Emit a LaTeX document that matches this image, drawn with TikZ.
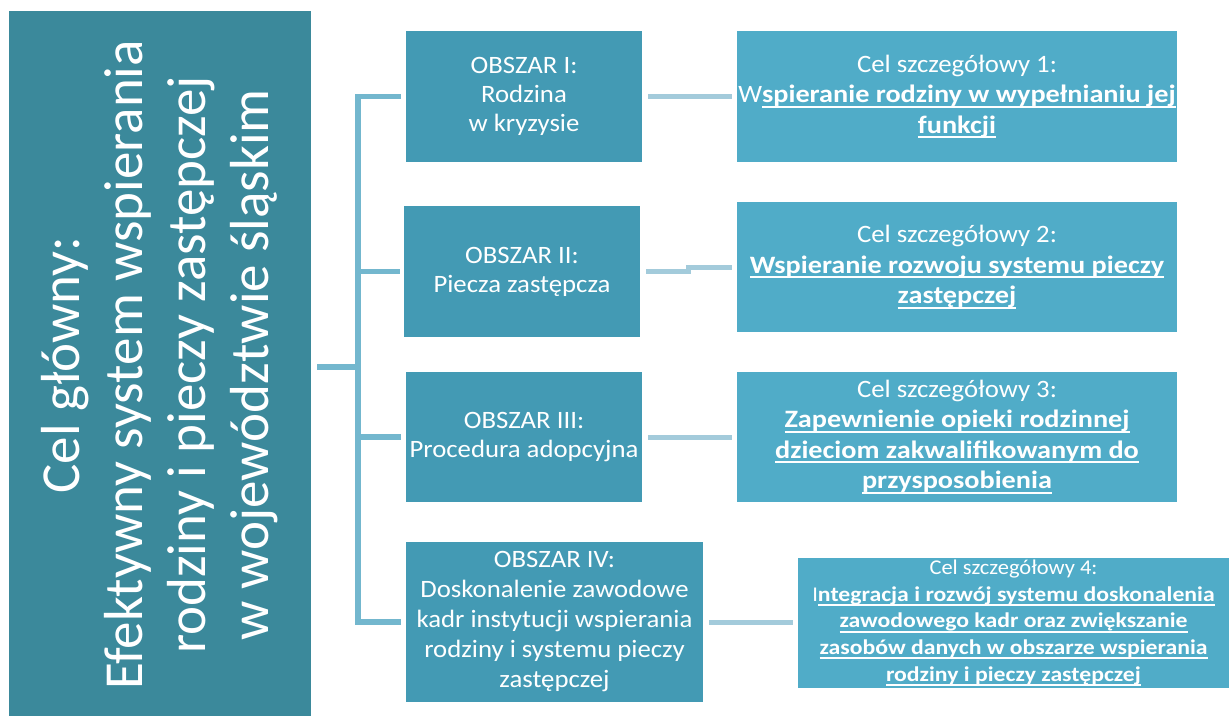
\documentclass[tikz,border=0pt]{standalone}
\usepackage{fontspec}
\setmainfont{Carlito}[FakeStretch=1.07, BoldFeatures={FakeStretch=1.13}]
\newfontfamily\glownyfont{Carlito}
\definecolor{morski}{HTML}{3B899B}
\definecolor{obszarkol}{HTML}{439AB4}
\definecolor{celkol}{HTML}{50ACC8}
\definecolor{szynakol}{HTML}{73B7CE}
\definecolor{laczkol}{HTML}{A3CBDB}
\newcommand\podkresl[1]{\leavevmode\setbox0\hbox{#1}\rlap{\vrule width\wd0 height -3pt depth 5pt}\box0}

\begin{document}
\begin{tikzpicture}[x=1pt, y=-1pt]
\tikzset{glownynoeud/.style={fill=morski, text=white, inner sep=0pt, align=center, rotate=90, font=\glownyfont\fontsize{55}{63}\selectfont},
  obszarnoeud/.style={fill=obszarkol, text=white, inner sep=0pt, align=center, font=\fontsize{25}{29}\selectfont},
  celnoeud/.style={fill=celkol, text=white, inner sep=0pt, align=center, font=\fontsize{25}{30.5}\selectfont},
  galaz/.style={draw=szynakol, line width=5.5pt},
  lacznik/.style={draw=laczkol, line width=5pt, shorten <=6pt, shorten >=5pt}}
\useasboundingbox (0,0) rectangle (1229,715);
\node[glownynoeud, minimum width=708pt, minimum height=302pt] (glowny) at (160,365) {Cel główny:\\Efektywny system wspierania\\rodziny i pieczy zastępczej\\w województwie śląskim};
\node[obszarnoeud, minimum width=236pt, minimum height=131pt] (obszar1) at (524,96.5) {OBSZAR I:\\Rodzina\\w kryzysie};
\node[obszarnoeud, minimum width=236pt, minimum height=131pt] (obszar2) at (522,271.5) {OBSZAR II:\\Piecza zastępcza};
\node[obszarnoeud, minimum width=236pt, minimum height=130pt] (obszar3) at (524,437) {OBSZAR III:\\Procedura adopcyjna};
\node[obszarnoeud, minimum width=297pt, minimum height=160pt, font=\fontsize{25}{30}\selectfont] (obszar4) at (554.5,622) {OBSZAR IV:\\Doskonalenie zawodowe\\kadr instytucji wspierania\\rodziny i systemu pieczy\\zastępczej};
\node[celnoeud, minimum width=440pt, minimum height=131pt] (cel1) at (957,96.5) {Cel szczegółowy 1:\\W\textbf{\podkresl{spieranie rodziny w wypełnianiu jej}}\\\textbf{\podkresl{funkcji}}};
\node[celnoeud, minimum width=440pt, minimum height=130pt] (cel2) at (957,267) {Cel szczegółowy 2:\\\textbf{\podkresl{Wspieranie rozwoju systemu pieczy}}\\\textbf{\podkresl{zastępczej}}};
\node[celnoeud, minimum width=440pt, minimum height=130pt] (cel3) at (957,437) {Cel szczegółowy 3:\\\textbf{\podkresl{Zapewnienie opieki rodzinnej}}\\\textbf{\podkresl{dzieciom zakwalifikowanym do}}\\\textbf{\podkresl{przysposobienia}}};
\node[celnoeud, minimum width=431pt, minimum height=130pt, font=\fontsize{21}{26.7}\selectfont] (cel4) at (1013.5,623) {Cel szczegółowy 4:\\I\textbf{\podkresl{ntegracja i rozwój systemu doskonalenia}}\\\textbf{\podkresl{zawodowego kadr oraz zwiększanie}}\\\textbf{\podkresl{zasobów danych w obszarze wspierania}}\\\textbf{\podkresl{rodziny i pieczy zastępczej}}};
\coordinate (szyna) at (358,367);
\draw[galaz, shorten <=6pt] (glowny.south |- szyna) -- (szyna);
\draw[galaz, shorten <=5pt, shorten >=5pt] (obszar1.west) -| (szyna) |- (obszar4.west);
\draw[galaz, shorten <=4pt] (obszar2.west) -- (obszar2.west -| szyna);
\draw[galaz, shorten <=5pt] (obszar3.west) -- (obszar3.west -| szyna);
\draw[lacznik] (obszar1.east) -- (cel1.west);
\draw[lacznik] (obszar2.east) -- ++(48,0) |- (cel2.west);
\draw[lacznik] (obszar3.east) -- (cel3.west);
\draw[lacznik] (obszar4.east) -- (obszar4.east -| cel4.west);
\end{tikzpicture}
\end{document}
